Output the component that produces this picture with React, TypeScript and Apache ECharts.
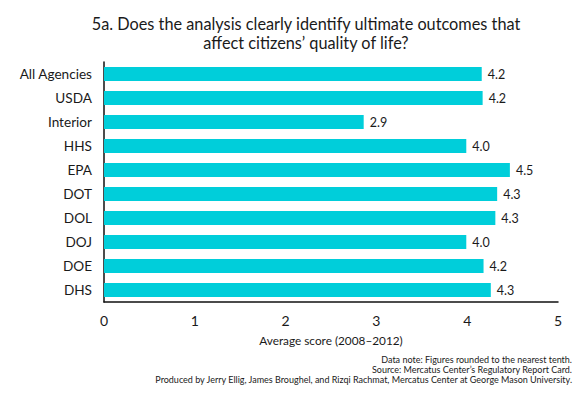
import React, { useEffect, useRef } from "react";
import * as echarts from "echarts";

const categories = ["All Agencies", "USDA", "Interior", "HHS", "EPA", "DOT", "DOL", "DOJ", "DOE", "DHS"];
const scores = [4.16, 4.17, 2.86, 3.99, 4.47, 4.33, 4.31, 3.99, 4.18, 4.26];
const xTicks = [0, 1, 2, 3, 4, 5];
const titleText = "5a. Does the analysis clearly identify ultimate outcomes that\naffect citizens\u2019 quality of life?";
const axisName = "Average score (2008\u20132012)";
const footerLines = [
  "Data note: Figures rounded to the nearest tenth.",
  "Source: Mercatus Center\u2019s Regulatory Report Card.",
  "Produced by Jerry Ellig, James Broughel, and Rizqi Rachmat, Mercatus Center at George Mason University.",
];

const FONT = "Lato, 'Liberation Sans', Arial, sans-serif";

export default function App() {
  const ref = useRef<HTMLDivElement>(null);
  useEffect(() => {
    if (!ref.current) return;
    const chart = echarts.init(ref.current, undefined, { renderer: "svg" });
    chart.setOption({
      animation: false,
      backgroundColor: "#ffffff",
      title: {
        text: titleText,
        left: 301,
        top: 9,
        textAlign: "center",
        textStyle: {
          fontFamily: FONT,
          fontSize: 16.3,
          fontWeight: "normal",
          color: "#1a1a1a",
          lineHeight: 19,
        },
      },
      grid: { left: 104, right: 27, top: 62, bottom: 95, containLabel: false },
      xAxis: {
        type: "value",
        min: xTicks[0],
        max: xTicks[xTicks.length - 1],
        interval: 1,
        name: axisName,
        nameLocation: "middle",
        nameGap: 32,
        nameTextStyle: { fontFamily: FONT, fontSize: 11.8, color: "#1a1a1a" },
        axisLine: { show: true, lineStyle: { color: "#111", width: 1.5 } },
        axisTick: { show: false },
        splitLine: { show: false },
        axisLabel: { fontFamily: FONT, fontSize: 14, color: "#1a1a1a", margin: 11 },
      },
      yAxis: {
        type: "category",
        data: categories,
        inverse: true,
        axisLine: { show: true, lineStyle: { color: "#111", width: 1.5 } },
        axisTick: { show: false },
        axisLabel: { fontFamily: FONT, fontSize: 13.6, color: "#1a1a1a", margin: 12 },
      },
      series: [
        {
          type: "bar",
          data: scores,
          barCategoryGap: "42%",
          itemStyle: { color: "#00CEDA" },
          label: {
            show: true,
            position: "right",
            distance: 6,
            fontFamily: FONT,
            fontSize: 12.5,
            color: "#1a1a1a",
            formatter: (p: any) => Number(p.value).toFixed(1),
          },
        },
      ],
      graphic: [
        {
          type: "text",
          x: 572,
          y: 355,
          style: {
            text: footerLines.join("\n"),
            align: "right",
            textAlign: "right",
            fontFamily: FONT,
            fontSize: 9,
            lineHeight: 9.6,
            fill: "#1a1a1a",
          },
        },
      ],
    });
    return () => chart.dispose();
  }, []);
  return <div ref={ref} style={{ position: "absolute", left: 0, top: 0, width: 585, height: 397 }} />;
}
